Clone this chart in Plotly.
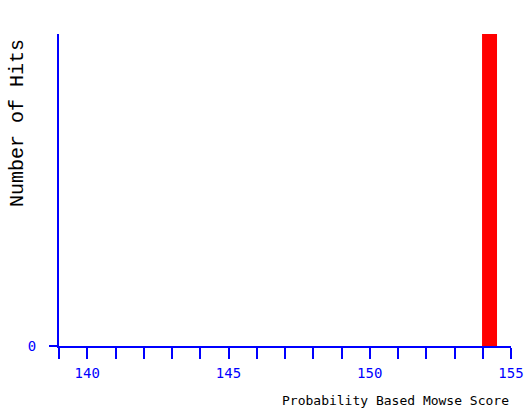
import plotly.graph_objects as go

scores = [154.24]
hits = [1]
bar_width = 0.53

x_title = "Probability Based Mowse Score"
y_title = "Number of Hits"

blue = "#0000ff"
mono = "DejaVu Sans Mono"

fig = go.Figure()
fig.add_trace(go.Bar(x=scores, y=hits, width=bar_width,
                     marker=dict(color="#ff0000", line=dict(width=0))))

fig.update_layout(
    width=530, height=410,
    margin=dict(l=59, r=19, t=34, b=64),
    paper_bgcolor="white", plot_bgcolor="white",
    showlegend=False,
    xaxis=dict(
        range=[139, 155], showgrid=False, zeroline=False, automargin=False,
        showline=True, linecolor=blue, linewidth=2,
        tick0=140, dtick=5, ticks="outside", ticklen=11, tickwidth=1.5, tickcolor=blue,
        minor=dict(dtick=1, tick0=139, ticks="outside", ticklen=11, tickwidth=1.5, tickcolor=blue),
        tickfont=dict(family=mono, size=14, color=blue),
        ticklabelstandoff=2,
    ),
    yaxis=dict(
        range=[0, 1], showgrid=False, zeroline=False, automargin=False,
        showline=True, linecolor=blue, linewidth=2,
        tickvals=[0], ticktext=["0"], ticks="outside", ticklen=8, tickwidth=1.5, tickcolor=blue,
        tickfont=dict(family=mono, size=14, color=blue),
        ticklabelstandoff=10,
    ),
    annotations=[
        dict(text=x_title, xref="paper", yref="paper", x=1, y=0,
             xanchor="right", yanchor="middle", xshift=0, yshift=-54,
             showarrow=False, font=dict(family=mono, size=13, color="black")),
        dict(text=y_title, xref="paper", yref="paper", x=0, y=0.715,
             xanchor="center", yanchor="middle", xshift=-41, textangle=-90,
             showarrow=False, font=dict(family="Liberation Mono", size=20, color="black")),
    ],
)

fig.write_html("out.html", config={"displayModeBar": False},
               post_script="document.body.style.margin='0';document.body.style.overflow='hidden';")
